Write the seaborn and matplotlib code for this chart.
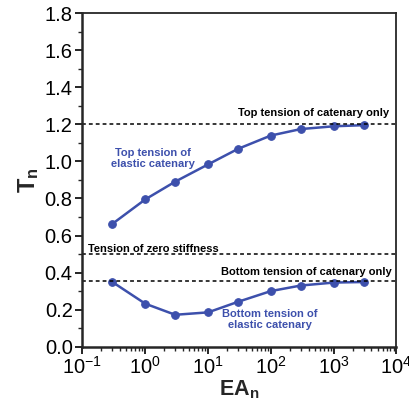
import matplotlib
matplotlib.use("Agg")
import matplotlib.pyplot as plt
import matplotlib.ticker as mticker
import numpy as np
import pandas as pd
import seaborn as sns

# Normalised axial stiffness and tension values
ea_n = [0.3, 1, 3, 10, 30, 100, 300, 1000, 3000]
top_tension = [0.663, 0.795, 0.891, 0.984, 1.068, 1.140, 1.175, 1.190, 1.196]
bottom_tension = [0.349, 0.232, 0.172, 0.185, 0.242, 0.300, 0.330, 0.346, 0.349]

# Reference levels
top_catenary_only = 1.2
bottom_catenary_only = 0.354
zero_stiffness = 0.5

sns.set_style("ticks")
plt.rcParams["font.family"] = ["Liberation Sans", "DejaVu Sans"]
plt.rcParams["mathtext.fontset"] = "custom"
plt.rcParams["mathtext.rm"] = "Liberation Sans"
plt.rcParams["mathtext.it"] = "Liberation Sans:italic"
plt.rcParams["mathtext.bf"] = "Liberation Sans:bold"
plt.rcParams["axes.unicode_minus"] = False

blue = "#3d50ac"

df = pd.concat([
    pd.DataFrame({"EA": ea_n, "T": top_tension, "curve": "top"}),
    pd.DataFrame({"EA": ea_n, "T": bottom_tension, "curve": "bottom"}),
])

fig = plt.figure(figsize=(4.10, 4.04), dpi=100)
ax = fig.add_axes([0.201, 0.142, 0.766, 0.825])

for name in ["top", "bottom"]:
    sns.lineplot(data=df[df["curve"] == name], x="EA", y="T", ax=ax,
                 color=blue, lw=1.8, marker="o", markersize=5.5,
                 markeredgecolor=blue, legend=False)

for level in [top_catenary_only, bottom_catenary_only, zero_stiffness]:
    ax.axhline(level, color="black", lw=1.1, ls=(0, (2.5, 2.0)))

ax.set_xscale("log")
ax.set_xlim(0.1, 1e4)
ax.set_ylim(0, 1.8)
ax.yaxis.set_major_locator(mticker.MultipleLocator(0.2))
ax.yaxis.set_minor_locator(mticker.MultipleLocator(0.1))
ax.yaxis.set_major_formatter(mticker.FormatStrFormatter("%.1f"))
ax.xaxis.set_major_locator(mticker.LogLocator(base=10, numticks=10))
ax.xaxis.set_minor_locator(mticker.LogLocator(base=10, subs=np.arange(2, 10), numticks=20))
ax.xaxis.set_minor_formatter(mticker.NullFormatter())

ax.tick_params(axis="both", which="major", direction="out", length=5, width=1.2,
               labelsize=14.5, pad=2, colors="black")
ax.tick_params(axis="both", which="minor", direction="out", length=3, width=1.0)
ax.tick_params(top=False, right=False)

for side in ["left", "bottom"]:
    ax.spines[side].set_linewidth(1.8)
for side in ["top", "right"]:
    ax.spines[side].set_linewidth(1.3)
    ax.spines[side].set_visible(True)

ax.set_xlabel(r"$\mathbf{EA_n}$", fontsize=15.5, labelpad=0)
ax.set_ylabel(r"$\mathbf{T_n}$", fontsize=17, labelpad=3)

ann = dict(fontsize=8, fontweight="bold")
ax.text(7700, 1.245, "Top tension of catenary only", ha="right", va="baseline", color="black", **ann)
ax.text(0.125, 0.512, "Tension of zero stiffness", ha="left", va="baseline", color="black", **ann)
ax.text(8500, 0.388, "Bottom tension of catenary only", ha="right", va="baseline", color="black", **ann)
ax.text(1.35, 1.018, "Top tension of\nelastic catenary", ha="center", va="center",
        color=blue, linespacing=1.1, **ann)
ax.text(95, 0.145, "Bottom tension of\nelastic catenary", ha="center", va="center",
        color=blue, linespacing=1.1, **ann)

fig.savefig("out.png", dpi=100)
